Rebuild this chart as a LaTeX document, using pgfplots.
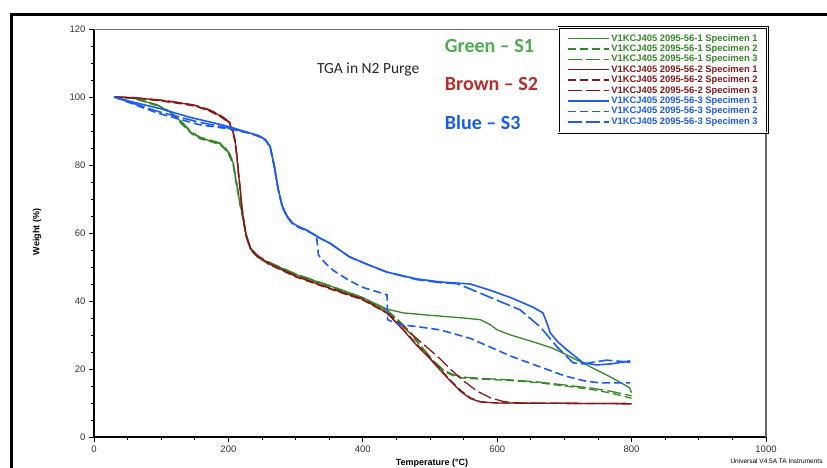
\documentclass[border=0pt]{standalone}
\usepackage{fontspec}
\setmainfont{Liberation Sans}
\newfontfamily\calibri{Carlito}
\usepackage{pgfplots}
\pgfplotsset{compat=1.18}

\definecolor{gline}{RGB}{55,135,40}
\definecolor{bline}{RGB}{135,25,25}
\definecolor{uline}{RGB}{30,90,245}
\definecolor{gnote}{RGB}{80,170,80}
\definecolor{bnote}{RGB}{185,45,45}
\definecolor{unote}{RGB}{25,90,240}

\tikzset{
  sp1/.style={solid},
  sp2/.style={dash pattern=on 8pt off 4pt},
  sp3/.style={dash pattern=on 14pt off 4pt},
}

\begin{document}
\begin{tikzpicture}[x=1pt,y=1pt]
\useasboundingbox (0,0) rectangle (827,468);
\clip (0,0) rectangle (827,468);
% slide frame
\draw[line width=3pt] (11,0) -- (11,453) -- (830,453);

\begin{axis}[
  at={(94pt,31pt)}, anchor=south west,
  scale only axis, width=672pt, height=408pt,
  xmin=0, xmax=1000, ymin=0, ymax=120,
  axis x line*=bottom, axis y line*=left,
  axis line style={line width=1.2pt, -},
  xtick={0,200,...,1000}, ytick={0,20,...,120},
  minor xtick={50,100,...,950}, minor ytick={5,10,...,115},
  tick align=outside,
  major tick length=5pt, minor tick length=3pt,
  tick style={black, line width=0.8pt},
  /pgf/number format/assume math mode=true,
  /pgf/number format/set thousands separator={},
  ticklabel style={font=\fontsize{9.5}{10}\selectfont, text=black!80},
  legend cell align=left,
  legend style={at={(1.003,1.005)}, anchor=north east,
    draw=black, line width=0.7pt, double=white, double distance=1pt,
    font=\bfseries\fontsize{9.4}{10}\selectfont,
    row sep=-1.9pt, inner xsep=8pt, inner ysep=5pt},
  legend image code/.code={\path (0pt,0pt) -- (41pt,0pt);
    \draw[#1, line width=1pt] (0pt,0pt) -- (36pt,0pt);},
  clip=false,
]
% ---------------- Green S1 ----------------
\addplot[gline, line width=1.3pt, sp1] table {
30 100
60 99.6
94 97.6
110 96
123 94
135 91.5
145 89.5
158 88
175 87
187 86.3
195 85
202 83
207 80.6
212 74.7
217 69
222 64
227 59
232 55.9
240 53.5
252 52
270 50.5
300 47.8
350 44.5
400 41
436 37.6
460 36.5
500 35.8
550 35
575 34.5
590 33
600 31.5
620 30
650 28.2
680 26.3
700 24.5
740 20.5
770 17.5
797 14.5
800 13
};
\addlegendentry{\textcolor{gline}{V1KCJ405 2095-56-1 Specimen 1}}
\addplot[gline, line width=1.3pt, sp2] table {
30 100
60 99.5
94 97.4
110 95.8
123 93.6
135 91.2
145 89.2
158 87.7
175 86.8
187 86
195 84.6
202 82.5
207 80
212 74
217 68.5
222 63.5
227 58.5
232 55.5
240 53.3
252 51.8
270 50.3
300 47.6
350 44.3
400 40.7
420 38.7
436 37.2
450 34.6
470 30.6
490 25.6
505 22
520 19.4
535 18
550 17.3
580 17
620 16.6
660 16
700 15
740 14
770 12.9
800 11.4
};
\addlegendentry{\textcolor{gline}{V1KCJ405 2095-56-1 Specimen 2}}
\addplot[gline, line width=1.3pt, sp3] table {
30 100
60 99.7
94 97.7
110 96.1
123 94.2
135 91.8
145 89.7
158 88.2
175 87.2
187 86.5
195 85.2
202 83.3
207 81
212 75.3
217 69.5
222 64.4
227 59.3
232 56.1
240 53.7
252 52.2
270 50.6
300 48
350 44.6
400 41
420 38.9
436 37.3
450 34.9
470 31
490 26
505 22.4
520 19.8
535 18.3
550 17.6
580 17.2
620 16.8
660 16.2
700 15.3
740 14.4
770 13.4
800 12.1
};
\addlegendentry{\textcolor{gline}{V1KCJ405 2095-56-1 Specimen 3}}
% ---------------- Brown S2 ----------------
\addplot[bline, line width=1.3pt, sp1] table {
30 100
60 99.8
100 99
130 98.2
150 97.5
170 96.2
185 94.8
195 93.5
202 92.3
207 89.5
210 87
213 82
215 77.6
218 72
220 67.6
224 62
227 58.8
233 55.5
242 53.5
260 51
300 47.3
350 43.8
400 40.5
436 36.5
460 31.5
480 27
500 23
515 19.7
530 16.5
545 13.5
560 11.3
575 10.3
600 10
700 9.9
800 9.8
};
\addlegendentry{\textcolor{bline}{V1KCJ405 2095-56-2 Specimen 1}}
\addplot[bline, line width=1.3pt, sp2] table {
30 100
60 99.7
100 98.8
130 98
150 97.3
170 96
185 94.6
195 93.3
202 92
207 89.2
210 86.5
213 81.5
215 77.2
218 71.5
220 67.2
224 61.7
227 58.6
233 55.3
242 53.3
260 50.8
300 47.1
350 43.6
400 40.3
436 36.4
460 31.7
480 27.3
500 23.3
515 20
530 16.8
545 13.8
560 11.5
575 10.4
600 10
700 9.9
800 9.8
};
\addlegendentry{\textcolor{bline}{V1KCJ405 2095-56-2 Specimen 2}}
\addplot[bline, line width=1.3pt, sp3] table {
30 100
60 99.8
100 99.1
130 98.3
150 97.6
170 96.4
185 95
195 93.7
202 92.5
207 89.8
210 87.3
213 82.5
215 78
218 72.5
220 68
224 62.3
227 59
233 55.6
242 53.6
260 51.1
300 47.4
350 43.9
400 40.6
436 36.6
460 32.5
480 29
500 25.6
515 23
530 20
550 16.5
570 13.5
590 11.5
610 10.4
630 10
700 9.9
800 9.8
};
\addlegendentry{\textcolor{bline}{V1KCJ405 2095-56-2 Specimen 3}}
% ---------------- Blue S3 ----------------
\addplot[uline, line width=1.6pt, sp1] table {
30 100
58 98.5
100 96.5
143 94
180 92.3
202 91.2
232 89.4
245 88.6
255 87.5
262 85.5
268 80
274 73
280 68
287 65
295 63
305 61.8
317 60.8
336 58.5
351 57
380 53
410 50.5
436 48.5
480 46.5
515 45.6
560 45
589 43.2
620 41
653 38.2
668 36.5
674 33.5
679 30.6
690 28
704 25.6
728 21.8
748 21.2
770 21.5
798 22.4
};
\addlegendentry{\textcolor{uline}{V1KCJ405 2095-56-3 Specimen 1}}
\addplot[uline, line width=1.6pt, sp2] table {
30 100
94 95.3
158 91.8
202 90.6
232 89.3
245 88.4
255 87.3
262 85.3
268 79.8
274 72.8
280 67.8
287 64.8
295 62.8
305 61.6
317 60.6
331 59.2
332 57.5
334 53.5
345 51
356 49
380 46
400 44
420 42.8
436 41.8
437 34.5
455 33
480 32.5
515 31.5
560 29
589 26.5
620 23.8
664 20.6
700 18
730 16.5
753 15.9
798 15.9
};
\addlegendentry{\textcolor{uline}{V1KCJ405 2095-56-3 Specimen 2}}
\addplot[uline, line width=1.6pt, sp3] table {
30 100
94 95.8
158 92.5
202 90.8
232 89.4
245 88.6
255 87.5
262 85.5
268 80
274 73
280 68
287 65
295 63
305 61.8
317 60.8
336 58.5
351 57
380 53
410 50.5
436 48.5
480 46.3
515 45.4
540 45.1
564 43.2
600 40.2
634 37.4
664 32.4
689 26.5
713 21.8
730 21.5
743 22
763 22.6
798 22
};
\addlegendentry{\textcolor{uline}{V1KCJ405 2095-56-3 Specimen 3}}

% gray top and right border
\draw[black!55, line width=0.8pt] (rel axis cs:0,1) -- (rel axis cs:1,1);
\draw[black!60, line width=2pt] (rel axis cs:1,1) -- (rel axis cs:1,0);

% annotations
\node[font=\calibri\fontsize{15.5}{17}\selectfont, text=black!85] at (axis cs:408,108) {TGA in N2 Purge};
\node[anchor=west, font=\calibri\bfseries\fontsize{20}{22}\selectfont, text=gnote] at (axis cs:517,115) {Green – S1};
\node[anchor=west, font=\calibri\bfseries\fontsize{20}{22}\selectfont, text=bnote] at (axis cs:517,103.8) {Brown – S2};
\node[anchor=west, font=\calibri\bfseries\fontsize{20}{22}\selectfont, text=unote] at (axis cs:517,92.6) {Blue – S3};
\end{axis}

\node[rotate=90, font=\bfseries\fontsize{9}{10}\selectfont] at (37,236) {Weight (\%)};
\node[font=\bfseries\fontsize{9}{10}\selectfont] at (432,5) {Temperature (°C)};
\node[anchor=west, font=\fontsize{6.5}{7}\selectfont] at (727,7) {Universal V4.5A TA Instruments};
\end{tikzpicture}
\end{document}
